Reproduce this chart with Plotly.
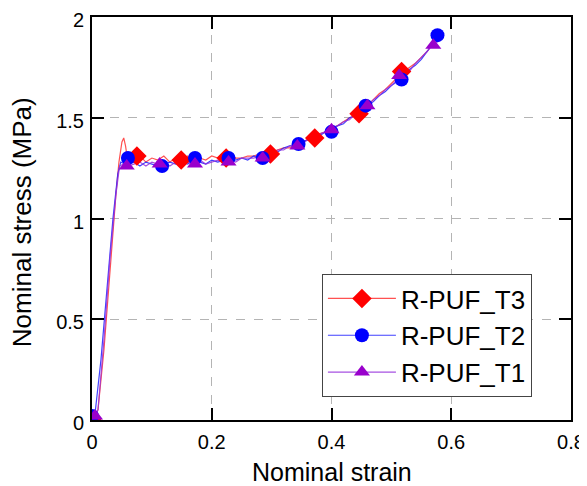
import plotly.graph_objects as go

# ---- data ----
rise_t3_x = [0.0, 0.01, 0.02, 0.03, 0.04, 0.045, 0.05, 0.053, 0.056]
rise_t3_y = [0.0, 0.05, 0.35, 0.75, 1.12, 1.28, 1.38, 1.40, 1.36]
rise_t2_x = [0.0, 0.005, 0.015, 0.025, 0.035, 0.043, 0.048, 0.055]
rise_t2_y = [0.02, 0.03, 0.30, 0.65, 1.00, 1.22, 1.28, 1.27]
rise_t1_x = [0.005, 0.01, 0.02, 0.03, 0.04, 0.046, 0.052]
rise_t1_y = [0.02, 0.05, 0.40, 0.80, 1.12, 1.26, 1.27]

strain = [0.06, 0.07, 0.08, 0.09, 0.10, 0.11, 0.12, 0.13, 0.14, 0.15,
          0.16, 0.17, 0.18, 0.19, 0.20, 0.21, 0.22, 0.23, 0.24, 0.25,
          0.26, 0.27, 0.28, 0.29, 0.30, 0.31, 0.32, 0.33, 0.34, 0.35,
          0.36, 0.37, 0.38, 0.39, 0.40, 0.41, 0.42, 0.43, 0.44, 0.45,
          0.46, 0.47, 0.48, 0.49, 0.50, 0.51, 0.52, 0.53, 0.54, 0.55,
          0.56, 0.57, 0.58]
stress_t3 = [1.28, 1.30, 1.31, 1.28, 1.30, 1.29, 1.31, 1.28, 1.30, 1.29,
             1.31, 1.29, 1.30, 1.29, 1.31, 1.30, 1.29, 1.31, 1.30, 1.30,
             1.31, 1.31, 1.32, 1.32, 1.33, 1.34, 1.35, 1.35, 1.37, 1.38,
             1.39, 1.40, 1.42, 1.43, 1.45, 1.46, 1.48, 1.50, 1.51, 1.54,
             1.56, 1.59, 1.62, 1.64, 1.67, 1.70, 1.73, 1.75, 1.77, 1.80,
             1.83, 1.87, 1.91]
stress_t2 = [1.27, 1.28, 1.26, 1.28, 1.27, 1.26, 1.27, 1.28, 1.27, 1.28,
             1.27, 1.29, 1.28, 1.27, 1.29, 1.28, 1.29, 1.30, 1.29, 1.30,
             1.29, 1.31, 1.30, 1.32, 1.33, 1.33, 1.35, 1.36, 1.36, 1.38,
             1.39, 1.40, 1.41, 1.43, 1.44, 1.46, 1.47, 1.50, 1.51, 1.54,
             1.56, 1.58, 1.61, 1.63, 1.66, 1.68, 1.71, 1.74, 1.76, 1.79,
             1.83, 1.87, 1.92]
stress_t1 = [1.26, 1.27, 1.28, 1.26, 1.28, 1.27, 1.28, 1.26, 1.28, 1.27,
             1.28, 1.27, 1.29, 1.27, 1.28, 1.29, 1.28, 1.29, 1.28, 1.30,
             1.30, 1.30, 1.31, 1.31, 1.32, 1.34, 1.34, 1.36, 1.37, 1.37,
             1.39, 1.41, 1.42, 1.43, 1.45, 1.46, 1.48, 1.49, 1.52, 1.53,
             1.56, 1.59, 1.61, 1.64, 1.66, 1.69, 1.72, 1.73, 1.77, 1.80,
             1.83, 1.87, 1.88]

mk_t3_x = [0.0, 0.075, 0.149, 0.224, 0.298, 0.372, 0.446, 0.517]
mk_t3_y = [0.0, 1.31, 1.29, 1.30, 1.32, 1.40, 1.52, 1.73]
mk_t2_x = [0.0, 0.06, 0.117, 0.172, 0.228, 0.285, 0.345, 0.40, 0.457, 0.517, 0.577]
mk_t2_y = [0.02, 1.30, 1.26, 1.30, 1.30, 1.30, 1.37, 1.43, 1.56, 1.69, 1.91]
mk_t1_x = [0.005, 0.058, 0.113, 0.172, 0.228, 0.285, 0.343, 0.40, 0.46, 0.513, 0.57]
mk_t1_y = [0.02, 1.26, 1.27, 1.27, 1.28, 1.30, 1.36, 1.44, 1.56, 1.71, 1.86]

names = ["R-PUF_T3", "R-PUF_T2", "R-PUF_T1"]
x_ticks = [0, 0.2, 0.4, 0.6, 0.8]
x_ticklabels = ["0", "0.2", "0.4", "0.6", "0.8"]
y_ticks = [0, 0.5, 1, 1.5, 2]
y_ticklabels = ["0", "0.5", "1", "1.5", "2"]
x_title = "Nominal strain"
y_title = "Nominal stress (MPa)"

FONT = "Arial, Liberation Sans, sans-serif"

series = [
    (rise_t3_x + strain, rise_t3_y + stress_t3, mk_t3_x, mk_t3_y,
     "rgba(255,50,50,0.85)", "#ff0000", "diamond", 15),
    (rise_t2_x + strain, rise_t2_y + stress_t2, mk_t2_x, mk_t2_y,
     "rgba(30,30,255,0.85)", "#0000ff", "circle", 14),
    (rise_t1_x + strain, rise_t1_y + stress_t1, mk_t1_x, mk_t1_y,
     "rgba(150,50,220,0.85)", "#9900cc", "triangle-up", 14),
]

fig = go.Figure()
for (lx, ly, mx, my, lc, mc, sym, sz), nm in zip(series, names):
    fig.add_trace(go.Scatter(x=lx, y=ly, mode="lines",
                             line=dict(color=lc, width=1.2),
                             showlegend=False, hoverinfo="skip"))
for (lx, ly, mx, my, lc, mc, sym, sz), nm in zip(series, names):
    fig.add_trace(go.Scatter(x=mx, y=my, mode="markers",
                             marker=dict(color=mc, symbol=sym, size=sz, line=dict(width=0)),
                             showlegend=False))
for (lx, ly, mx, my, lc, mc, sym, sz), nm in zip(series, names):
    fig.add_trace(go.Scatter(x=[None], y=[None], mode="lines+markers", name=nm,
                             line=dict(color=lc, width=1.2),
                             marker=dict(color=mc, symbol=sym, size=sz, line=dict(width=0))))

axis_common = dict(
    showline=True, linecolor="black", linewidth=2, mirror="ticks",
    ticks="inside", ticklen=12, tickwidth=2, tickcolor="black",
    showgrid=True, gridcolor="#b4b4b4", griddash="dash", gridwidth=1,
    zeroline=False, automargin=False, ticklabeloverflow="allow",
    tickfont=dict(family=FONT, size=20, color="black"),
)
fig.update_xaxes(range=[0, 0.8], tickvals=x_ticks, ticktext=x_ticklabels,
                 ticklabelstandoff=3, **axis_common)
fig.update_yaxes(range=[0, 2], tickvals=y_ticks, ticktext=y_ticklabels,
                 ticklabelstandoff=2, ticklabelshift=3, **axis_common)

fig.add_annotation(text=x_title, xref="paper", yref="paper", x=0.5, y=-0.129,
                   xanchor="center", yanchor="middle", showarrow=False,
                   font=dict(family=FONT, size=25, color="black"))
fig.add_annotation(text=y_title, xref="paper", yref="paper", x=-0.146, y=0.491,
                   xanchor="center", yanchor="middle", showarrow=False, textangle=-90,
                   font=dict(family=FONT, size=26, color="black"))

# the page body has an 8px margin, so the figure is sized/offset to compensate
fig.update_layout(
    width=579, height=478,
    margin=dict(l=84, r=16, t=9, b=66),
    paper_bgcolor="white", plot_bgcolor="white",
    font=dict(family=FONT, color="black"),
    legend=dict(x=0.48, xanchor="left", y=0.057, yanchor="bottom",
                bgcolor="white", bordercolor="#444", borderwidth=1,
                font=dict(family=FONT, size=26, color="black"), itemwidth=68,
                tracegroupgap=0),
)

fig.write_html("out.html")
